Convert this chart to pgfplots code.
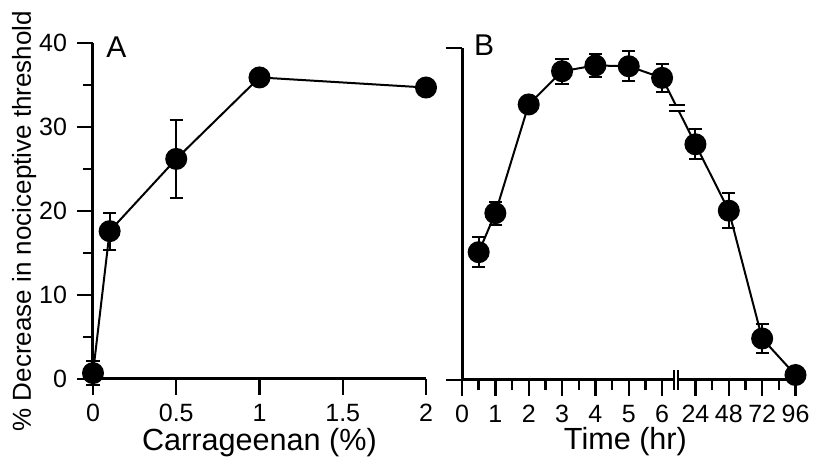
\documentclass[border=0pt]{standalone}
\usepackage{fontspec}
\setmainfont{Liberation Sans}
\usepackage{pgfplots}
\usepackage{pgfplotstable}
\pgfplotsset{compat=1.18}

% panel A: carrageenan dose
\pgfplotstableread{
x    y     e
0    0.7   1.4
0.1  17.6  2.2
0.5  26.2  4.6
1    35.9  0.8
2    34.7  0.6
}\doseA
% panel B: time course (positions 7..10 = 24, 48, 72, 96 hr)
\pgfplotstableread{
x    y     e
0.5  15.4  1.8
1    20.1  1.4
2    33.2  0.6
3    37.2  1.5
4    37.9  1.4
5    37.8  1.8
6    36.4  1.7
7    28.4  1.8
8    20.4  2.1
9    5.0   1.7
10   0.6   0.8
}\timeB

\begin{document}
\begin{tikzpicture}
\pgfplotsset{
  panel/.style={
    scale only axis,
    axis lines*=left,
    enlargelimits=false,
    clip=false,
    axis line style={line width=1.5pt},
    tick style={line width=1.2pt, black},
    tick align=outside,
    major tick length=8pt,
    minor tick length=5pt,
    ticklabel style={font=\fontsize{12.5}{13}\selectfont},
    yticklabel style={xshift=-1.5pt},
    xticklabel style={yshift=-1.2pt},
    /pgf/number format/assume math mode=true,
    label style={font=\fontsize{15.3}{17}\selectfont},
  },
  dots/.style={
    black, line width=1pt, mark=*, mark size=5pt,
    error bars/.cd, y dir=both, y explicit,
    error bar style={line width=1pt},
    error mark options={rotate=90, mark size=3.3pt, line width=1pt},
  },
}
\begin{axis}[panel,
  width=166.5pt, height=168pt,
  xmin=0, xmax=2, ymin=0, ymax=40,
  xtick={0,0.5,1,1.5,2},
  xticklabels={0,0.5,1,1.5,2},
  ytick={0,10,20,30,40},
  minor ytick={5,15,25,35},
  xlabel={Carrageenan (\%)},
  xlabel style={at={(axis description cs:0.5,-0.214)}, anchor=base},
  ylabel={\% Decrease in nociceptive threshold},
  ylabel style={font=\fontsize{13}{15}\selectfont, at={(axis description cs:-0.207,0.47)}, anchor=center},
]
\addplot[dots] table[x=x, y=y, y error=e] {\doseA};
\node[font=\fontsize{15}{16}\selectfont] at (rel axis cs:0.07,0.988) {A};
\end{axis}

\begin{axis}[panel,
  at={(184.5pt,-0.5pt)},
  width=166.75pt, height=166pt,
  xmin=0, xmax=10, ymin=0, ymax=40,
  xtick={0,...,10},
  xticklabels={0,1,2,3,4,5,6,24,48,72,96},
  minor xtick={0.5,1.5,2.5,3.5,4.5,5.5,7.5,8.5,9.5},
  ytick={0,40},
  yticklabels={,,},
  x axis line style={draw=none},
  xlabel={Time (hr)},
  xlabel style={at={(axis description cs:0.49,-0.21)}, anchor=base},
]
\addplot[dots] table[x=x, y=y, y error=e] {\timeB};
% broken x axis
\draw[line width=1.5pt] (axis cs:0,0) -- (axis cs:6.36,0);
\draw[line width=1.5pt] (axis cs:6.48,0) -- (axis cs:10,0);
\draw[line width=1.2pt] (axis cs:6.36,-1.2) -- (axis cs:6.36,1.2);
\draw[line width=1.2pt] (axis cs:6.48,-1.2) -- (axis cs:6.48,1.2);
% break mark on the curve
\fill[white] (axis cs:6.22,32.4) rectangle (axis cs:6.7,33.1);
\draw[line width=1pt] (axis cs:6.22,33.1) -- (axis cs:6.7,33.1);
\draw[line width=1pt] (axis cs:6.22,32.4) -- (axis cs:6.7,32.4);
\node[font=\fontsize{15}{16}\selectfont] at (rel axis cs:0.066,1.009) {B};
\end{axis}
\pgfresetboundingbox
\path[use as bounding box] (-46.5pt,-40.5pt) rectangle (360.5pt,189.5pt);
\end{tikzpicture}
\end{document}
